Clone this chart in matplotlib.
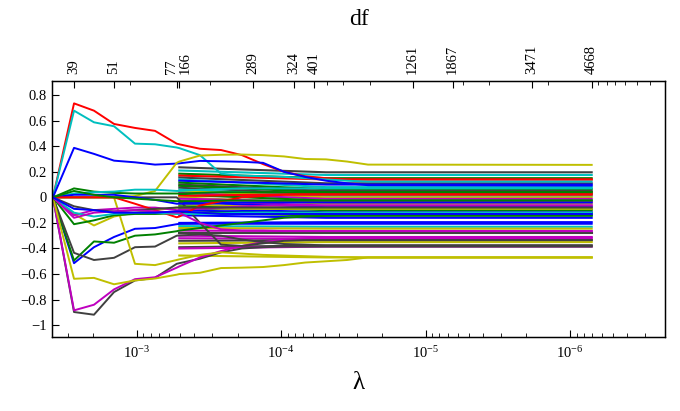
import numpy as np
import matplotlib
matplotlib.use("Agg")
import matplotlib.pyplot as plt
from matplotlib.ticker import FixedLocator, NullFormatter
from matplotlib.transforms import ScaledTranslation

plt.rcParams['font.family'] = ['Liberation Serif', 'DejaVu Serif']
plt.rcParams['mathtext.fontset'] = 'stix'
plt.rcParams['axes.unicode_minus'] = True

# MATLAB (pre-2014) colour order
C = {'b': (0, 0, 1), 'g': (0, 0.5, 0), 'r': (1, 0, 0), 'c': (0, 0.75, 0.75),
     'm': (0.75, 0, 0.75), 'y': (0.75, 0.75, 0), 'k': (0.25, 0.25, 0.25)}

# log10(lambda) grid of the path
log_lam = [-2.420, -2.566, -2.704, -2.843, -2.988, -3.127, -3.277, -3.295, -3.438,
           -3.584, -3.729, -3.875, -4.020, -4.166, -4.311, -4.457, -4.602, -6.151]

# paths active from the largest lambda
red_top = [0, 0.735, 0.678, 0.574, 0.543, 0.52, 0.42, 0.415, 0.38, 0.37, 0.33, 0.26, 0.2, 0.165, 0.15, 0.14, 0.139, 0.139]
cyan_top = [0, 0.678, 0.587, 0.556, 0.42, 0.415, 0.39, 0.385, 0.33, 0.185, 0.17, 0.165, 0.16, 0.15, 0.14, 0.13, 0.123, 0.123]
blue_top = [0, 0.387, 0.34, 0.287, 0.274, 0.256, 0.264, 0.266, 0.285, 0.282, 0.278, 0.27, 0.2, 0.16, 0.13, 0.11, 0.095, 0.092]
yellow_rise = [0, 0, 0, 0, 0.01, 0.05, 0.27, 0.28, 0.327, 0.333, 0.335, 0.33, 0.32, 0.3, 0.297, 0.28, 0.256, 0.254]
gray_bottom = [0, -0.897, -0.918, -0.741, -0.65, -0.63, -0.52, -0.515, -0.48, -0.43, -0.4, -0.39, -0.385, -0.385, -0.385, -0.385, -0.385, -0.385]
magenta_bottom = [0, -0.884, -0.84, -0.72, -0.64, -0.625, -0.55, -0.54, -0.47, -0.42, -0.38, -0.35, -0.33, -0.32, -0.315, -0.315, -0.315, -0.315]
blue_dip = [0, -0.515, -0.39, -0.31, -0.246, -0.24, -0.21, -0.208, -0.207, -0.207, -0.207, -0.207, -0.207, -0.207, -0.207, -0.207, -0.207, -0.207]
green_dip = [0, -0.494, -0.345, -0.355, -0.3, -0.29, -0.265, -0.26, -0.24, -0.22, -0.2, -0.18, -0.16, -0.15, -0.145, -0.143, -0.143, -0.143]
gray_dip = [0, -0.434, -0.49, -0.473, -0.39, -0.385, -0.3, -0.298, -0.29, -0.3, -0.33, -0.35, -0.365, -0.37, -0.376, -0.376, -0.376, -0.376]
yellow_low = [0, -0.637, -0.63, -0.68, -0.65, -0.635, -0.605, -0.6, -0.59, -0.553, -0.55, -0.545, -0.53, -0.51, -0.5, -0.49, -0.47, -0.47]
yellow_drop = [0, 0, 0, 0, -0.52, -0.53, -0.49, -0.485, -0.45, -0.43, -0.44, -0.45, -0.455, -0.46, -0.465, -0.468, -0.47, -0.47]
gray_fall = [0, 0, 0, 0, 0, 0, 0, -0.02, -0.2, -0.37, -0.38, -0.36, -0.34, -0.335, -0.335, -0.335, -0.335, -0.335]
yellow_small = [0, -0.13, -0.22, -0.15, -0.12, -0.1, -0.08, -0.08, -0.085, -0.09, -0.09, -0.09, -0.09, -0.09, -0.09, -0.09, -0.09, -0.09]
green_small = [0, 0.07, 0.045, 0.035, 0.03, 0.03, 0.03, 0.03, 0.035, 0.04, 0.04, 0.04, 0.04, 0.04, 0.04, 0.04, 0.04, 0.04]
green_neg = [0, -0.21, -0.18, -0.14, -0.13, -0.13, -0.125, -0.125, -0.12, -0.12, -0.12, -0.12, -0.12, -0.12, -0.12, -0.12, -0.12, -0.12]
cyan_small = [0, 0.03, 0.04, 0.045, 0.06, 0.06, 0.05, 0.05, 0.06, 0.065, 0.07, 0.07, 0.07, 0.07, 0.07, 0.07, 0.07, 0.07]
magenta_small = [0, -0.14, -0.1, -0.09, -0.08, -0.08, -0.1, -0.1, -0.09, -0.08, -0.07, -0.065, -0.064, -0.064, -0.064, -0.064, -0.064, -0.064]
blue_small = [0, 0.02, 0.02, 0.02, 0.0, -0.02, -0.05, -0.05, -0.05, -0.045, -0.04, -0.04, -0.04, -0.04, -0.04, -0.04, -0.04, -0.04]
red_dip = [0, 0, 0, 0, -0.05, -0.1, -0.156, -0.15, -0.064, -0.03, 0, 0.01, 0.02, 0.02, 0.02, 0.02, 0.02, 0.02]
gray_small = [0, -0.07, -0.1, -0.11, -0.1, -0.09, -0.08, -0.08, -0.08, -0.08, -0.08, -0.08, -0.08, -0.08, -0.08, -0.08, -0.08, -0.08]
cyan_neg = [0, -0.12, -0.15, -0.13, -0.12, -0.12, -0.13, -0.13, -0.13, -0.125, -0.12, -0.12, -0.12, -0.12, -0.12, -0.12, -0.12, -0.12]
magenta_neg = [0, -0.16, -0.12, -0.11, -0.1, -0.11, -0.12, -0.12, -0.2, -0.25, -0.26, -0.26, -0.264, -0.264, -0.264, -0.264, -0.264, -0.264]
green_small2 = [0, 0.05, 0.02, 0.0, -0.01, -0.02, -0.03, -0.03, -0.03, -0.025, -0.025, -0.025, -0.025, -0.025, -0.025, -0.025, -0.025, -0.025]
blue_mid = [0, -0.09, -0.1, -0.12, -0.12, -0.12, -0.11, -0.11, -0.12, -0.13, -0.13, -0.13, -0.13, -0.13, -0.13, -0.13, -0.13, -0.13]

early_paths = [red_top, cyan_top, blue_top, yellow_rise, gray_bottom, magenta_bottom,
               blue_dip, green_dip, gray_dip, yellow_low, yellow_drop, gray_fall,
               yellow_small, green_small, green_neg, cyan_small, magenta_small,
               blue_small, red_dip, gray_small, cyan_neg, magenta_neg, green_small2, blue_mid]
early_colors = ['r', 'c', 'b', 'y', 'k', 'm', 'b', 'g', 'k', 'y', 'y', 'k',
                'y', 'g', 'g', 'c', 'm', 'b', 'r', 'k', 'c', 'm', 'g', 'b']

# paths entering at df = 166
late_entry = [0.235, 0.21, 0.185, 0.17, 0.155, 0.14, 0.13, 0.115, 0.1, 0.09, 0.075, 0.06, 0.05,
              0.035, 0.02, 0.01, 0.0, -0.01, -0.025, -0.04, -0.055, -0.07, -0.085, -0.1, -0.12,
              -0.14, -0.2, -0.225, -0.24, -0.26, -0.28, -0.3, -0.32, -0.34, -0.36, -0.39, -0.4, -0.455]
late_final = [0.196, 0.175, 0.15, 0.14, 0.11, 0.08, 0.1, 0.064, 0.05, 0.04, 0.025, 0.012, 0.0,
              -0.012, -0.025, 0.03, -0.05, -0.038, -0.064, -0.077, -0.09, -0.1, -0.117, -0.13, -0.143,
              -0.16, -0.194, -0.23, -0.245, -0.264, -0.28, -0.31, -0.325, -0.335, -0.35, -0.376, -0.385, -0.47]
late_colors = ['k', 'c', 'g', 'r', 'k', 'c', 'b', 'g', 'k', 'g', 'k', 'c', 'y',
               'm', 'g', 'r', 'y', 'm', 'm', 'b', 'y', 'g', 'b', 'b', 'g',
               'b', 'b', 'c', 'y', 'm', 'k', 'm', 'm', 'k', 'y', 'k', 'm', 'y']

# top axis: degrees of freedom
df_log = [-2.566, -2.843, -3.277, -3.295, -3.807, -4.089, -4.228, -4.911, -5.188, -5.735, -6.151]
df_labels = ['39', '51', '77', '166', '289', '324', '401', '1261', '1867', '3471', '4668']
top_minor_log = [-2.954, -3.508, -4.316, -4.429, -4.616, -5.260, -5.440, -5.849,
                 -6.195, -6.257, -6.313, -6.382, -6.465, -6.555]

y_ticks = [-1, -0.8, -0.6, -0.4, -0.2, 0, 0.2, 0.4, 0.6, 0.8]
y_labels = ['\u22121', '\u22120.8', '\u22120.6', '\u22120.4', '\u22120.2', '0', '0.2', '0.4', '0.6', '0.8']

fig = plt.figure(figsize=(6.8, 4.11), dpi=100)
ax = fig.add_axes([52.3 / 680, 1 - 336.7 / 411, (664.7 - 52.3) / 680, (336.7 - 81) / 411])

lam = 10 ** np.array(log_lam)
late_idx = [7, 14, 17]
for e, f, c in zip(late_entry, late_final, late_colors):
    ax.plot(lam[late_idx], [e, f, f], color=C[c], lw=1.5)
for p, c in zip(early_paths, early_colors):
    ax.plot(lam, p, color=C[c], lw=1.4)

ax.set_xscale('log')
ax.set_xlim(10 ** -2.4155, 10 ** -6.6565)
ax.set_ylim(-1.09, 0.91)
ax.set_yticks(y_ticks, labels=y_labels)
ax.tick_params(axis='both', which='both', direction='in', labelsize=10.5, top=False, right=False)
ax.tick_params(axis='x', which='major', length=5, pad=6)
ax.tick_params(axis='x', which='minor', length=3)
ax.tick_params(axis='y', which='major', length=5, pad=4)
ax.set_xlabel('\u03bb', fontsize=18, labelpad=8)
for s in ax.spines.values():
    s.set_linewidth(1.0)

ax2 = ax.twiny()
ax2.set_xscale('log')
ax2.set_xlim(ax.get_xlim())
ax2.xaxis.set_major_locator(FixedLocator(10 ** np.array(df_log)))
ax2.set_xticklabels(df_labels, rotation=90)
ax2.xaxis.set_minor_locator(FixedLocator(10 ** np.array(top_minor_log)))
ax2.xaxis.set_minor_formatter(NullFormatter())
ax2.tick_params(axis='x', which='major', direction='in', length=5, labelsize=10.5, pad=5)
ax2.tick_params(axis='x', which='minor', direction='in', length=3)
ax2.set_xlabel('df', fontsize=17, labelpad=14)

# the two close labels sit side by side, as in the reference
tl = ax2.get_xticklabels()
tl[2].set_transform(tl[2].get_transform() + ScaledTranslation(-5.5 / 100, 0, fig.dpi_scale_trans))
tl[3].set_transform(tl[3].get_transform() + ScaledTranslation(5.5 / 100, 0, fig.dpi_scale_trans))

fig.savefig('out.png', dpi=100)
